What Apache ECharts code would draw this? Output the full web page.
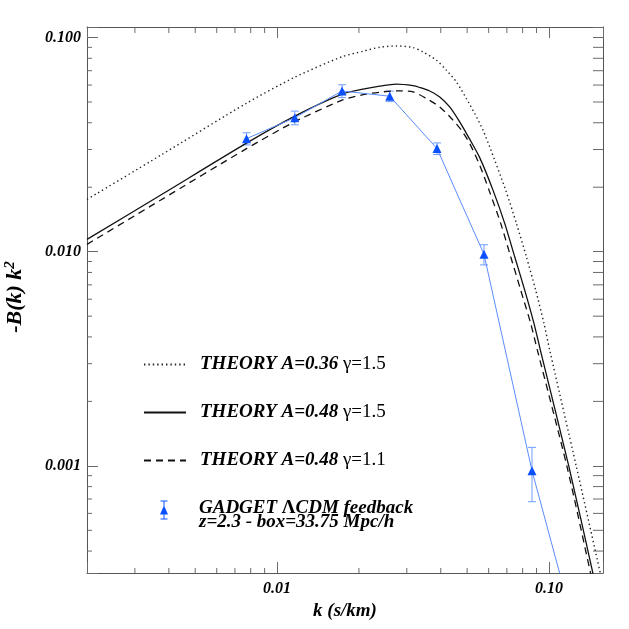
<!DOCTYPE html>
<html>
<head>
<meta charset="utf-8">
<script src="https://cdn.jsdelivr.net/npm/echarts@6/dist/echarts.min.js"></script>
<style>
html, body { margin: 0; padding: 0; background: #fff; }
#chart { width: 629px; height: 629px; }
</style>
</head>
<body>
<div id="chart"></div>
<script>
// theory curves (k in s/km, value = -B(k) k^2)
const kDotted = [0.00200, 0.00371, 0.00772, 0.01162, 0.01734, 0.02071, 0.02385, 0.02748, 0.03162, 0.03441, 0.03855, 0.04196, 0.04565, 0.04968, 0.05332, 0.05720, 0.06053, 0.06932, 0.07589, 0.08259, 0.08933, 0.09586, 0.1006, 0.1261, 0.1545, 0.1672];
const dotted = [0.01754, 0.02808, 0.04935, 0.06528, 0.08136, 0.08631, 0.09010, 0.09136, 0.08981, 0.08566, 0.07836, 0.07038, 0.06206, 0.05191, 0.04419, 0.03694, 0.03087, 0.01939, 0.01356, 0.009467, 0.006619, 0.004628, 0.003473, 0.000991, 0.000315, 0.000201];

const kSolid = [0.00200, 0.00371, 0.00772, 0.01162, 0.01734, 0.02071, 0.02385, 0.02748, 0.03162, 0.03347, 0.03643, 0.03964, 0.04314, 0.04695, 0.05109, 0.05562, 0.06224, 0.06874, 0.07481, 0.08141, 0.08806, 0.09296, 0.1184, 0.1451, 0.1603];
const solid = [0.01141, 0.01829, 0.03212, 0.04293, 0.05438, 0.05738, 0.05926, 0.06055, 0.05958, 0.05844, 0.05628, 0.05282, 0.04743, 0.04038, 0.03353, 0.02749, 0.01939, 0.01356, 0.009467, 0.006619, 0.004628, 0.003473, 0.000991, 0.000315, 0.000181];

const kDashed = [0.00200, 0.00371, 0.00772, 0.01162, 0.01734, 0.02071, 0.02385, 0.02748, 0.03162, 0.03542, 0.03964, 0.04377, 0.04763, 0.05109, 0.05562, 0.06017, 0.06645, 0.07232, 0.07870, 0.08564, 0.09063, 0.1165, 0.1423, 0.1576];
const dashed = [0.01082, 0.01734, 0.03028, 0.04046, 0.05097, 0.05409, 0.05556, 0.05634, 0.05574, 0.05191, 0.04743, 0.04189, 0.03694, 0.03201, 0.02536, 0.01939, 0.01356, 0.009467, 0.006619, 0.004628, 0.003473, 0.000991, 0.000315, 0.000177];

// GADGET simulation points with error bars
const kData = [0.00772, 0.01162, 0.01734, 0.02597, 0.03875, 0.05768, 0.0866, 0.1297];
const bkData = [0.03372, 0.04224, 0.05629, 0.05321, 0.03031, 0.009725, 0.000950, 0.000142];
const bkErr = [0.0022, 0.0031, 0.0039, 0.0030, 0.0019, 0.00105, 0.00027, 0.00008];

// axis ranges and minor tick values
const kMin = 0.002, kMax = 0.158;
const yMin = 0.000316, yMax = 0.112;
const minorK = [0.003, 0.004, 0.005, 0.006, 0.007, 0.008, 0.009, 0.02, 0.03, 0.04, 0.05, 0.06, 0.07, 0.08, 0.09];
const minorY = [0.0004, 0.0005, 0.0006, 0.0007, 0.0008, 0.0009, 0.002, 0.003, 0.004, 0.005, 0.006, 0.007, 0.008, 0.009, 0.02, 0.03, 0.04, 0.05, 0.06, 0.07, 0.08, 0.09];

const names = ["THEORY A=0.36 γ=1.5", "THEORY A=0.48 γ=1.5", "THEORY A=0.48 γ=1.1", "GADGET"];
const legendLabel = {
    "THEORY A=0.36 γ=1.5": "{b|THEORY A=0.36 }{r|γ=1.5}",
    "THEORY A=0.48 γ=1.5": "{b|THEORY A=0.48 }{r|γ=1.5}",
    "THEORY A=0.48 γ=1.1": "{b|THEORY A=0.48 }{r|γ=1.1}",
    "GADGET": "{g|GADGET }{l|Λ}{g|CDM feedback}\n{g|z=2.3 - box=33.75 Mpc/h}"
};

const serif = "'Liberation Serif', 'Times New Roman', serif";
const bi = {fontFamily: serif, fontWeight: "bold", fontStyle: "italic", color: "#000"};
const axisGray = "#555";
const tickGray = "#6a6a6a";
const isDecade = v => Math.abs(Math.log10(v) - Math.round(Math.log10(v))) < 1e-6;

const zip = (a, b) => a.map((x, i) => [x, b[i]]);

const myChart = echarts.init(document.getElementById("chart"));

const richText = {
    b: Object.assign({fontSize: 19, lineHeight: 22}, bi),
    r: {fontFamily: serif, fontSize: 19, lineHeight: 22, color: "#000"},
    g: Object.assign({fontSize: 19, lineHeight: 14}, bi),
    l: {fontFamily: serif, fontWeight: "bold", fontSize: 19, lineHeight: 14, color: "#000"}
};

const errorBars = function(params, api) {
    const k = api.value(0), v = api.value(1), e = api.value(2);
    const top = api.coord([k, v + e]);
    const bot = api.coord([k, v - e]);
    const w = 4;
    const style = {stroke: "#6f9cff", lineWidth: 1};
    return {
        type: "group",
        children: [
            {type: "line", shape: {x1: top[0], y1: top[1], x2: bot[0], y2: bot[1]}, style: style},
            {type: "line", shape: {x1: top[0] - w, y1: top[1], x2: top[0] + w, y2: top[1]}, style: style},
            {type: "line", shape: {x1: bot[0] - w, y1: bot[1], x2: bot[0] + w, y2: bot[1]}, style: style}
        ]
    };
};

const minorTicksX = function(params, api) {
    const cs = params.coordSys;
    const p = api.coord([api.value(0), api.value(1)]);
    const bottom = cs.y + cs.height;
    const style = {stroke: tickGray, lineWidth: 1};
    return {
        type: "group",
        children: [
            {type: "line", shape: {x1: p[0], y1: bottom, x2: p[0], y2: bottom - 5}, style: style},
            {type: "line", shape: {x1: p[0], y1: cs.y, x2: p[0], y2: cs.y + 6}, style: style}
        ]
    };
};

const minorTicksY = function(params, api) {
    const cs = params.coordSys;
    const p = api.coord([api.value(0), api.value(1)]);
    const right = cs.x + cs.width;
    const style = {stroke: tickGray, lineWidth: 1};
    return {
        type: "group",
        children: [
            {type: "line", shape: {x1: cs.x, y1: p[1], x2: cs.x + 5, y2: p[1]}, style: style},
            {type: "line", shape: {x1: right, y1: p[1], x2: right - 10, y2: p[1]}, style: style}
        ]
    };
};

const logAxis = (min, max) => ({
    type: "log",
    logBase: 10,
    min: min,
    max: max,
    splitLine: {show: false},
    axisLine: {show: true, lineStyle: {color: axisGray, width: 1}},
    axisTick: {show: true, inside: true, length: 11, lineStyle: {color: tickGray}}
});

const gadgetIcon = "path://M1,0L8,0L8,1L5,1L5,6.1L8.5,14L5,14L5,18L8,18L8,19L1,19L1,18L4,18L4,14L0.5,14L4,6.1L4,1L1,1Z";

const theoryLine = (name, k, v, lineStyle) => ({
    name: name,
    type: "line",
    data: zip(k, v),
    symbol: "none",
    smooth: 0.25,
    lineStyle: lineStyle,
    itemStyle: {color: lineStyle.color}
});

let option = {
    animation: false,
    grid: {left: 87, right: 26, top: 27, bottom: 56, containLabel: false, outerBoundsMode: "none"},
    xAxis: [
        Object.assign(logAxis(kMin, kMax), {
            position: "bottom",
            name: "k (s/km)",
            nameLocation: "middle",
            nameGap: 25,
            nameTextStyle: Object.assign({fontSize: 19}, bi),
            axisLabel: Object.assign({
                fontSize: 16,
                margin: 8,
                formatter: v => isDecade(v) ? v.toFixed(2) : ""
            }, bi)
        }),
        Object.assign(logAxis(kMin, kMax), {
            position: "top",
            axisLabel: {show: false}
        })
    ],
    yAxis: [
        Object.assign(logAxis(yMin, yMax), {
            position: "left",
            name: "{m|-B(k) k}{s|2}",
            nameLocation: "middle",
            nameRotate: 90,
            nameGap: 60,
            nameTextStyle: {
                padding: [0, 0, 0, 6],
                rich: {
                    m: Object.assign({fontSize: 22}, bi),
                    s: Object.assign({fontSize: 15, verticalAlign: "top", padding: [0, 0, 9, 0]}, bi)
                }
            },
            axisLabel: Object.assign({
                fontSize: 16,
                margin: 6,
                formatter: v => isDecade(v) ? v.toFixed(3) : ""
            }, bi)
        }),
        Object.assign(logAxis(yMin, yMax), {
            position: "right",
            axisTick: {show: true, inside: true, length: 10, lineStyle: {color: tickGray}},
            axisLabel: {show: false}
        })
    ],
    legend: [{
        orient: "vertical",
        left: 143,
        top: 355,
        padding: 0,
        itemWidth: 42,
        itemHeight: 19,
        itemGap: 29,
        selectedMode: false,
        itemStyle: {opacity: 0},
        data: names.slice(0, 3),
        formatter: n => legendLabel[n],
        textStyle: {padding: [0, 0, 0, 9], rich: richText}
    }, {
        orient: "vertical",
        left: 160,
        top: 499,
        padding: 0,
        itemWidth: 42,
        itemHeight: 19,
        selectedMode: false,
        data: [{name: names[3], icon: gadgetIcon}],
        formatter: n => legendLabel[n],
        textStyle: {padding: [11, 0, 0, 9], rich: richText}
    }],
    series: [{
        type: "custom",
        silent: true,
        renderItem: minorTicksX,
        data: minorK.map(k => [k, yMax]),
        z: 1
    }, {
        type: "custom",
        silent: true,
        renderItem: minorTicksY,
        data: minorY.map(v => [kMin, v]),
        z: 1
    },
    theoryLine(names[0], kDotted, dotted, {color: "#222", width: 1.4, type: [1.4, 3]}),
    theoryLine(names[1], kSolid, solid, {color: "#111", width: 1.3}),
    theoryLine(names[2], kDashed, dashed, {color: "#111", width: 1.3, type: [7, 5]}),
    {
        type: "custom",
        silent: true,
        renderItem: errorBars,
        clip: true,
        data: kData.map((k, i) => [k, bkData[i], bkErr[i]]),
        encode: {x: 0, y: 1},
        z: 3
    }, {
        name: names[3],
        type: "line",
        data: zip(kData, bkData),
        symbol: "triangle",
        symbolSize: [9, 9],
        showAllSymbol: true,
        clip: true,
        lineStyle: {color: "#5b8cff", width: 1},
        itemStyle: {color: "#0a50ff"},
        z: 4
    }]
};

option && myChart.setOption(option);
</script>
</body>
</html>
